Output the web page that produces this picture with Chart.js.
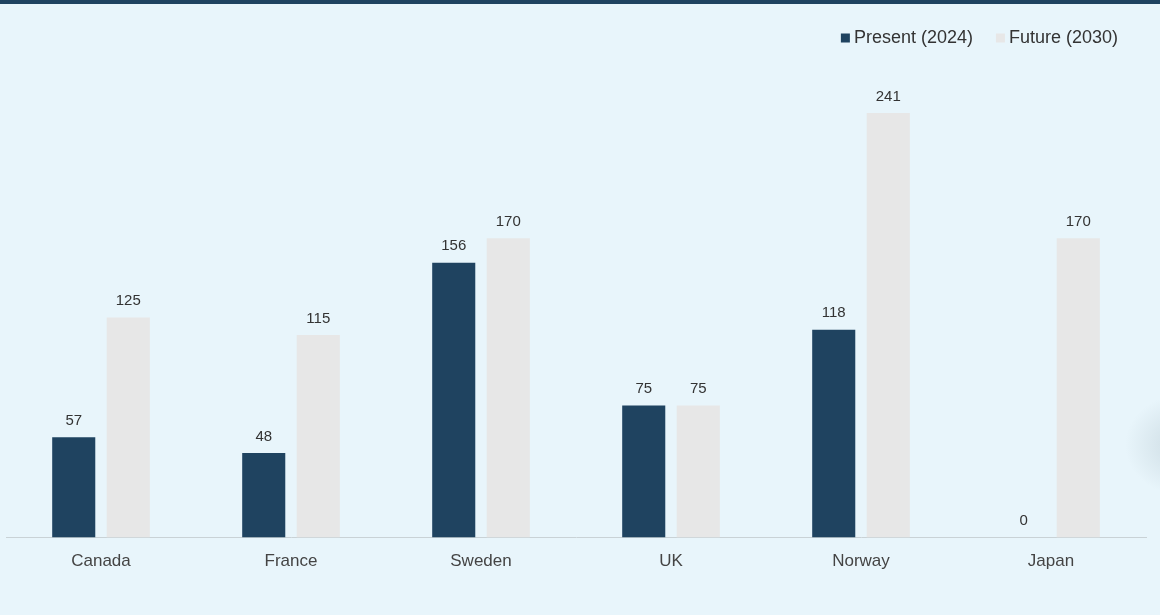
<!DOCTYPE html>
<html>
<head>
<meta charset="utf-8">
<script src="https://cdn.jsdelivr.net/npm/chart.js@4"></script>
<style>
  html, body { margin: 0; padding: 0; }
  body { width: 1160px; height: 615px; background: #e8f5fb; position: relative; overflow: hidden; }
  #topbar { position: absolute; left: 0; top: 0; width: 1160px; height: 4px; background: #1f4360; }
  #shade { position: absolute; left: 1120px; top: 390px; width: 90px; height: 110px;
           background: radial-gradient(ellipse at 70% 50%, rgba(150,170,180,0.35), rgba(232,245,251,0) 65%); }
  #wrap { position: absolute; left: 0; top: 0; width: 1160px; height: 615px; }
</style>
</head>
<body>
<div id="shade"></div>
<div id="wrap"><canvas id="chart"></canvas></div>
<div id="topbar"></div>
<script>
// ================== DADOS ==================
const categories = ["Canada", "France", "Sweden", "UK", "Norway", "Japan"];
const present2024 = [57, 48, 156, 75, 118, 0];
const future2030 = [125, 115, 170, 75, 241, 170];
const seriesNames = ["Present (2024)", "Future (2030)"];
const seriesColors = ["#1f4360", "#e7e7e7"];

const FONT = "'Liberation Sans', Arial, sans-serif";

// rótulos em cima das barras
const valueLabels = {
  id: "valueLabels",
  afterDatasetsDraw(chart) {
    const ctx = chart.ctx;
    ctx.save();
    ctx.font = "15px " + FONT;
    ctx.fillStyle = "#333333";
    ctx.textAlign = "center";
    ctx.textBaseline = "bottom";
    chart.data.datasets.forEach((ds, i) => {
      chart.getDatasetMeta(i).data.forEach((bar, j) => {
        ctx.fillText(String(ds.data[j]), bar.x, bar.y - 9);
      });
    });
    ctx.restore();
  }
};

// legenda no canto superior direito
const topLegend = {
  id: "topLegend",
  afterDraw(chart) {
    const ctx = chart.ctx;
    ctx.save();
    ctx.font = "18px " + FONT;
    ctx.textBaseline = "middle";
    const y = 38, box = 9, gap = 4, between = 23;
    let x = 1118;
    for (let i = chart.data.datasets.length - 1; i >= 0; i--) {
      const ds = chart.data.datasets[i];
      const w = ctx.measureText(ds.label).width;
      x -= w;
      ctx.fillStyle = "#333333";
      ctx.fillText(ds.label, x, y);
      x -= gap + box;
      ctx.fillStyle = ds.backgroundColor;
      ctx.fillRect(x, y - box / 2, box, box);
      x -= between;
    }
    ctx.restore();
  }
};

new Chart(document.getElementById("chart"), {
  type: "bar",
  data: {
    labels: categories,
    datasets: [
      { label: seriesNames[0], data: present2024, backgroundColor: seriesColors[0], borderWidth: 0 },
      { label: seriesNames[1], data: future2030, backgroundColor: seriesColors[1], borderWidth: 0 }
    ]
  },
  options: {
    responsive: true,
    maintainAspectRatio: false,
    animation: false,
    categoryPercentage: 0.574,
    barPercentage: 0.79,
    layout: { padding: { left: 6, right: 14, top: 55, bottom: 37 } },
    plugins: {
      legend: { display: false },
      tooltip: { enabled: false }
    },
    scales: {
      x: {
        grid: { display: false },
        border: { display: true, color: "#c9d2d6", width: 1 },
        ticks: { font: { family: FONT, size: 17 }, color: "#444444", padding: 6 }
      },
      y: { display: false, min: 0, max: 274 }
    }
  },
  plugins: [valueLabels, topLegend]
});
</script>
</body>
</html>
